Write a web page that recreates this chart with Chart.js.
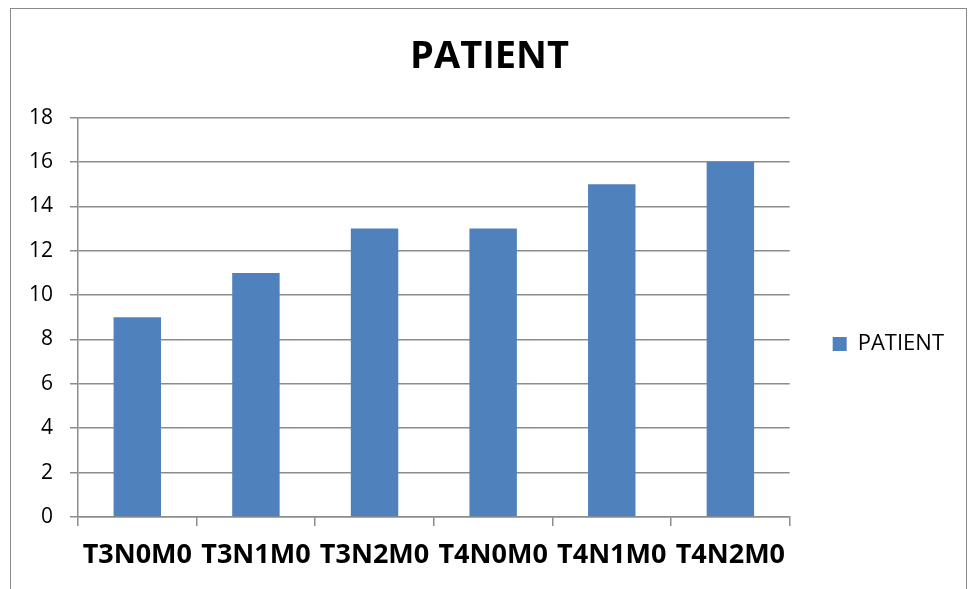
<!DOCTYPE html>
<html>
<head>
<meta charset="utf-8">
<script src="https://cdn.jsdelivr.net/npm/chart.js@4.4.1/dist/chart.umd.min.js"></script>
<style>
  html, body { margin: 0; padding: 0; background: #fff; }
  #wrap { position: relative; width: 968px; height: 589px; overflow: hidden; }
  #frame { position: absolute; left: 10px; top: 8px; width: 955px; height: 700px; border: 1px solid #8a8a8a; }
  #c { position: absolute; left: 0; top: 0; }
</style>
</head>
<body>
<div id="wrap">
  <div id="frame"></div>
  <canvas id="c" width="968" height="589"></canvas>
</div>
<script>
const categories = ['T3N0M0', 'T3N1M0', 'T3N2M0', 'T4N0M0', 'T4N1M0', 'T4N2M0'];
const patientCounts = [9, 11, 13, 13, 15, 16];
const seriesName = 'PATIENT';
const yMin = 0, yMax = 18, yStep = 2;

const FONT = "'Open Sans', 'Liberation Sans', sans-serif";
const GRID = '#8c8c8c';

new Chart(document.getElementById('c'), {
  type: 'bar',
  data: {
    labels: categories,
    datasets: [{
      label: seriesName,
      data: patientCounts,
      backgroundColor: '#4f81bd',
      borderWidth: 0,
      categoryPercentage: 1.0,
      barPercentage: 0.4
    }]
  },
  options: {
    responsive: false,
    animation: false,
    layout: { padding: { left: 25, right: 14, top: 0, bottom: 0 } },
    plugins: {
      title: {
        display: true,
        text: seriesName,
        color: '#000',
        font: { family: FONT, size: 38, weight: 'bold', lineHeight: 1.2 },
        padding: { top: 34, bottom: 38 }
      },
      legend: {
        display: true,
        position: 'right',
        fullSize: false,
        // empty heading only reserves space, pushing the single entry lower
        title: {
          display: true,
          text: '',
          font: { family: FONT, size: 12 },
          padding: { top: 39, bottom: 0 }
        },
        labels: {
          color: '#000',
          font: { family: FONT, size: 22 },
          boxWidth: 14,
          boxHeight: 14,
          padding: 43
        }
      },
      tooltip: { enabled: false }
    },
    scales: {
      x: {
        offset: true,
        grid: {
          display: true,
          offset: true,
          drawOnChartArea: false,
          drawTicks: true,
          tickLength: 9,
          color: GRID,
          lineWidth: 1.5
        },
        border: { display: true, color: GRID, width: 1.5 },
        ticks: {
          color: '#000',
          font: { family: FONT, size: 27, weight: 'bold' },
          padding: 13,
          maxRotation: 0,
          autoSkip: false
        },
        afterFit(scale) { scale.height = 72; }
      },
      y: {
        min: yMin,
        max: yMax,
        grid: {
          color: GRID,
          lineWidth: 1.5,
          drawTicks: true,
          tickLength: 8
        },
        border: { display: true, color: GRID, width: 1.5 },
        ticks: {
          stepSize: yStep,
          color: '#000',
          font: { family: FONT, size: 21 },
          padding: 17
        },
        afterFit(scale) { scale.width = 53; }
      }
    }
  }
});
</script>
</body>
</html>
